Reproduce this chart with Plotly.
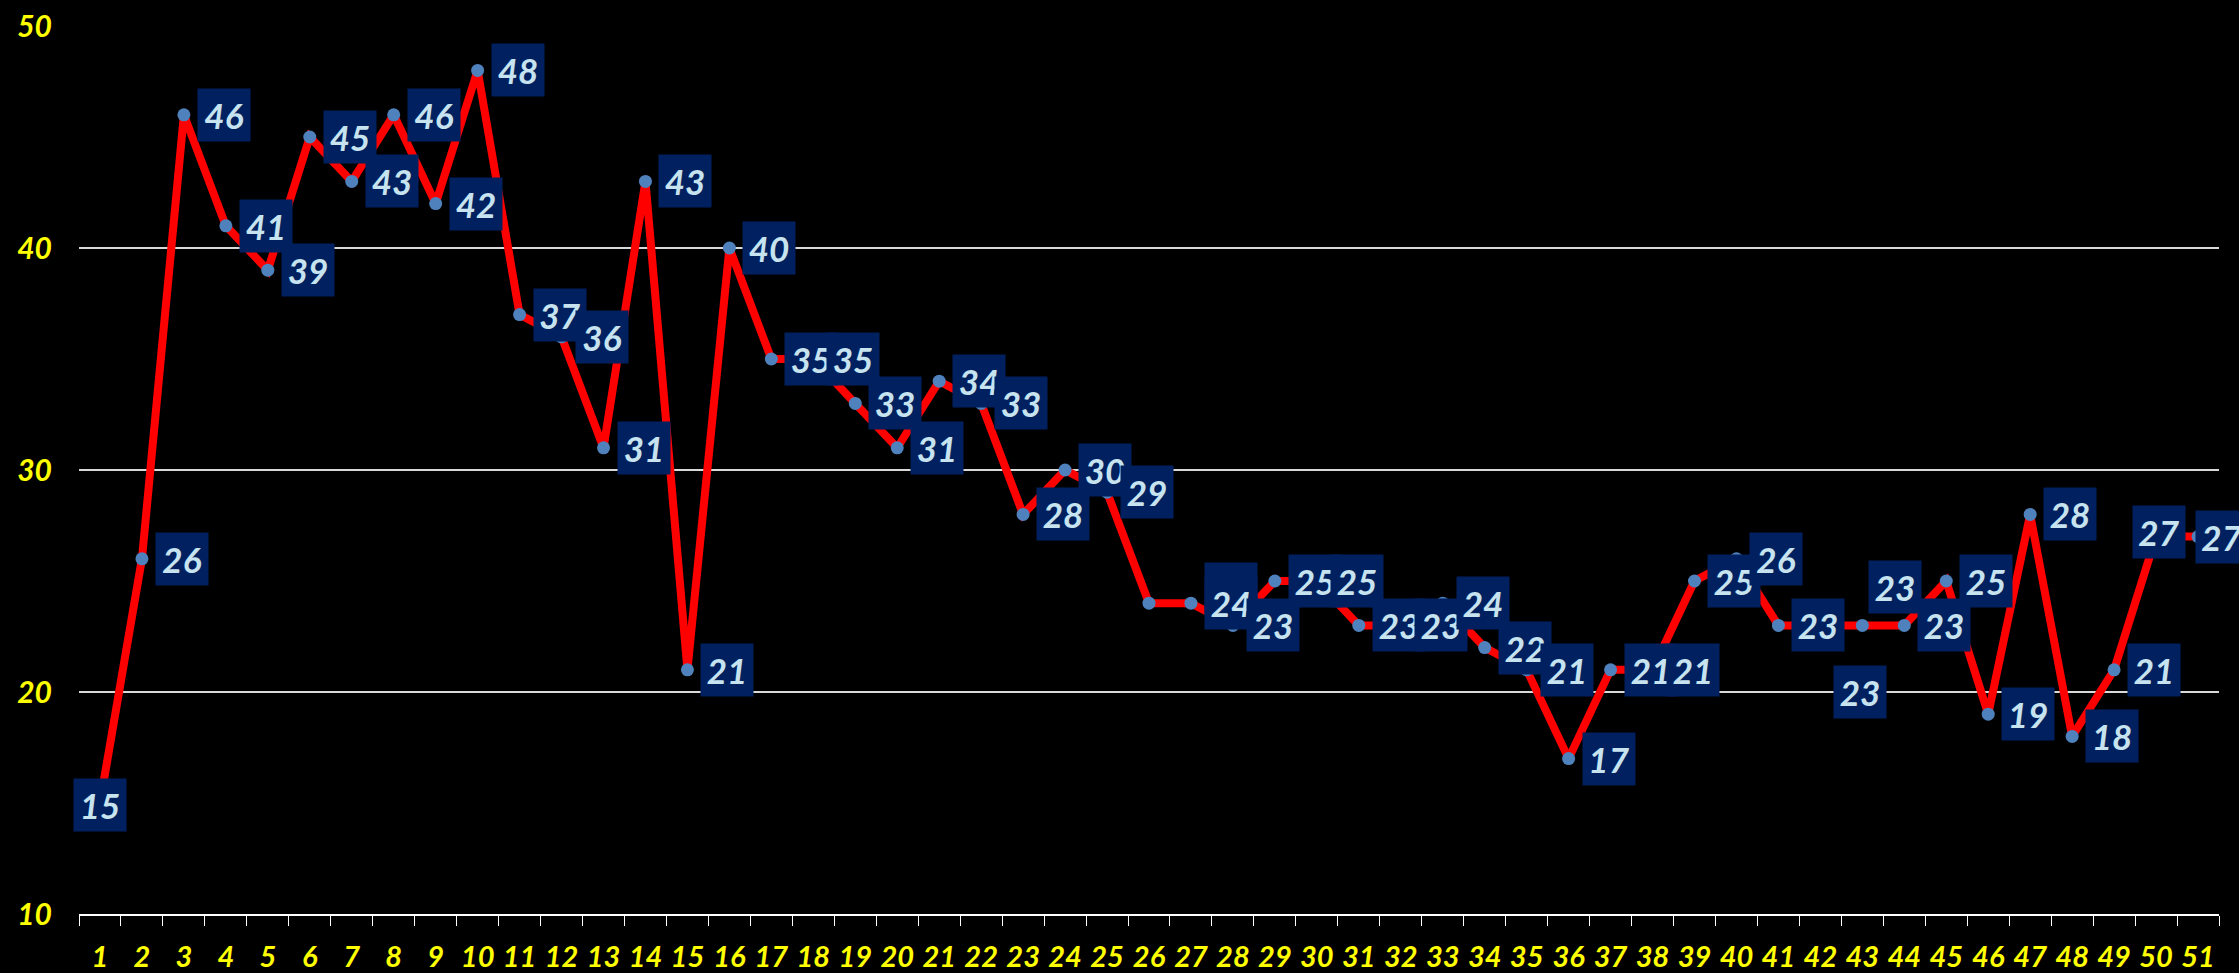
import plotly.graph_objects as go

# 카테고리 (1 ~ 51)
categories = [str(i) for i in range(1, 52)]

# 값
values = [
    15, 26, 46, 41, 39, 45, 43, 46, 42, 48,
    37, 36, 31, 43, 21, 40, 35, 35, 33, 31,
    34, 33, 28, 30, 29, 24, 24, 23, 25, 25,
    23, 23, 24, 22, 21, 17, 21, 21, 25, 26,
    23, 23, 23, 23, 25, 19, 28, 18, 21, 27,
    27,
]

# 라벨 위치 조정 (수동으로 옮겨진 라벨)
label_moves = {
    1: ("center", 0, -2),
    26: ("left", 55, 14),
    42: ("left", 13, -67),
    43: ("left", 6, 38),
    50: ("center", 3, 5),
    51: ("left", -3, 0),
}

fig = go.Figure()

fig.add_trace(
    go.Scatter(
        x=categories,
        y=values,
        mode="lines+markers",
        line=dict(color="#ff0000", width=8),
        marker=dict(color="#4f81bd", size=13),
        showlegend=False,
        cliponaxis=False,
    )
)

# 데이터 라벨 (남색 박스) - 카테고리 축에서는 인덱스로 위치 지정
for idx, v in enumerate(values):
    anchor, dx, dy = label_moves.get(idx + 1, ("left", 13, 0))
    fig.add_annotation(
        x=idx,
        y=v,
        text=str(v),
        showarrow=False,
        xanchor=anchor,
        yanchor="middle",
        xshift=dx,
        yshift=dy,
        width=52,
        height=52,
        align="center",
        valign="middle",
        bgcolor="#002060",
        borderpad=0,
        font=dict(family="Lato", size=35, color="#c6e3ef", weight="bold", style="italic"),
    )

fig.update_layout(
    width=2239,
    height=973,
    paper_bgcolor="#000000",
    plot_bgcolor="#000000",
    margin=dict(l=79, r=20, t=26, b=59),
    showlegend=False,
)

fig.update_xaxes(
    type="category",
    range=[-0.5, len(categories) - 0.5],
    autorange=False,
    automargin=False,
    tickangle=0,
    showgrid=False,
    showline=True,
    linecolor="#ffffff",
    linewidth=2,
    ticks="outside",
    tickson="boundaries",
    ticklen=10,
    tickwidth=1,
    tickcolor="#ffffff",
    ticklabelstandoff=16,
    tickfont=dict(family="Lato", size=29, color="#ffff00", weight="bold", style="italic"),
    zeroline=False,
)

fig.update_yaxes(
    range=[10, 50],
    autorange=False,
    automargin=False,
    tickvals=[10, 20, 30, 40, 50],
    showgrid=True,
    gridcolor="#d9d9d9",
    gridwidth=1.5,
    showline=False,
    zeroline=False,
    ticklabelstandoff=26,
    tickfont=dict(family="Lato", size=30, color="#ffff00", weight="bold", style="italic"),
)

# 페이지 기본 여백 제거, 모드바 숨김
fig.write_html(
    "out.html",
    config={"displayModeBar": False},
    post_script="document.body.style.margin='0';document.body.style.background='#000';",
)
